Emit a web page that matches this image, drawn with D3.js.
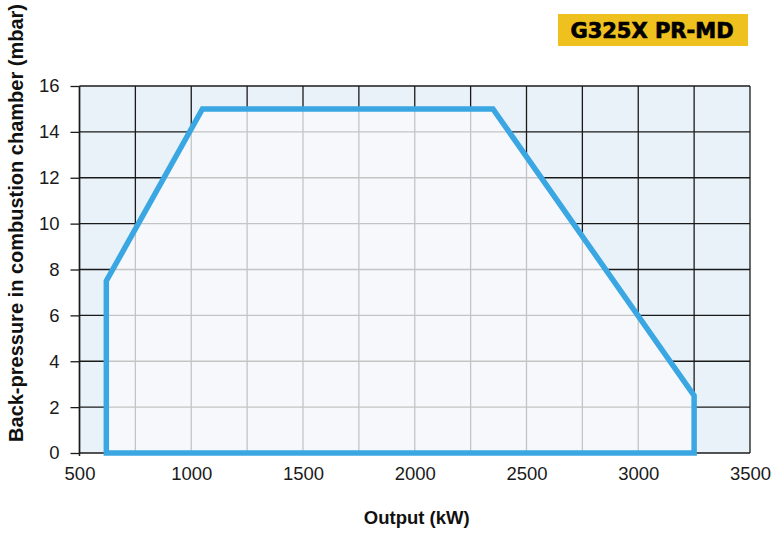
<!DOCTYPE html>
<html>
<head>
<meta charset="utf-8">
<script src="https://cdn.jsdelivr.net/npm/d3@7"></script>
<style>
  html, body { margin: 0; padding: 0; background: #fff; }
  svg { display: block; font-family: "Liberation Sans", Arial, sans-serif; }
</style>
</head>
<body>
<svg id="chart" width="781" height="536"></svg>
<script>
// operating field of the burner (output kW, back-pressure mbar)
const outputKW = [620, 620, 1050, 2350, 3250, 3250];
const pressureMbar = [0, 7.5, 15, 15, 2.5, 0];
const xTicks = [500, 1000, 1500, 2000, 2500, 3000, 3500];
const xGrid = d3.range(500, 3501, 250);
const yTicks = [0, 2, 4, 6, 8, 10, 12, 14, 16];
const title = "G325X PR-MD";

const margin = { left: 79.5, right: 31, top: 86, bottom: 83 };
const width = 781, height = 536;
const svg = d3.select("#chart");

const x = d3.scaleLinear().domain([500, 3500]).range([margin.left, width - margin.right]);
const y = d3.scaleLinear().domain([0, 16]).range([height - margin.bottom, margin.top]);

const field = outputKW.map((v, i) => [x(v), y(pressureMbar[i])]);

// background + dark grid outside the field
const plot = svg.append("g");
plot.append("rect")
  .attr("x", x(500)).attr("y", y(16))
  .attr("width", x(3500) - x(500)).attr("height", y(0) - y(16))
  .attr("fill", "#e9f2f9");

function drawGrid(g, color) {
  g.selectAll("line.v")
    .data(xGrid).enter()
    .append("line")
    .attr("x1", (d) => x(d)).attr("x2", (d) => x(d))
    .attr("y1", y(0)).attr("y2", y(16))
    .attr("stroke", color).attr("stroke-width", 1.3);
  g.selectAll("line.h")
    .data(yTicks).enter()
    .append("line")
    .attr("x1", x(500)).attr("x2", x(3500))
    .attr("y1", (d) => y(d)).attr("y2", (d) => y(d))
    .attr("stroke", color).attr("stroke-width", 1.3);
}
drawGrid(plot.append("g"), "#1a1a1a");

// lighter inside the field, with grey grid
svg.append("clipPath").attr("id", "fieldClip")
  .append("polygon")
  .attr("points", field.map((p) => p.join(",")).join(" "));

const inner = svg.append("g").attr("clip-path", "url(#fieldClip)");
inner.append("rect")
  .attr("x", x(500)).attr("y", y(16))
  .attr("width", x(3500) - x(500)).attr("height", y(0) - y(16))
  .attr("fill", "#f6f8fc");
drawGrid(inner.append("g"), "#c4c4c4");

// y axis with ticks to the left
const yAxis = svg.append("g")
  .attr("transform", `translate(${x(500)},0)`)
  .call(d3.axisLeft(y).tickValues(yTicks).tickSize(9).tickPadding(11));
yAxis.select(".domain").attr("stroke", "#1a1a1a").attr("stroke-width", 1.5)
  .attr("d", `M0,${y(16)}V${y(0) + 3}`);
yAxis.selectAll(".tick line").attr("stroke", "#1a1a1a").attr("stroke-width", 1.3);
yAxis.selectAll(".tick text")
  .attr("font-size", 18.5).attr("fill", "#1a1a1a")
  .attr("font-family", "Liberation Sans, Arial, sans-serif");

// x tick labels
const xAxis = svg.append("g")
  .attr("transform", `translate(0,${y(0)})`)
  .call(d3.axisBottom(x).tickValues(xTicks).tickSize(0).tickPadding(14).tickFormat(d3.format("d")));
xAxis.select(".domain").remove();
xAxis.selectAll(".tick text")
  .attr("font-size", 18.5).attr("fill", "#1a1a1a")
  .attr("font-family", "Liberation Sans, Arial, sans-serif");

// field outline
svg.append("polygon")
  .attr("points", field.map((p) => p.join(",")).join(" "))
  .attr("fill", "none")
  .attr("stroke", "#3aa7e3")
  .attr("stroke-width", 5.5)
  .attr("stroke-linejoin", "miter");

// axis titles
svg.append("text")
  .attr("x", (x(500) + x(3500)) / 2 + 2)
  .attr("y", 524)
  .attr("text-anchor", "middle")
  .attr("font-size", 18.5).attr("font-weight", "bold").attr("fill", "#111")
  .text("Output (kW)");

svg.append("text")
  .attr("transform", "translate(23,223) rotate(-90)")
  .attr("text-anchor", "middle")
  .attr("font-size", 20).attr("font-weight", "bold").attr("fill", "#111")
  .text("Back-pressure in combustion chamber (mbar)");

// model badge
svg.append("rect")
  .attr("x", 558).attr("y", 14)
  .attr("width", 190).attr("height", 32)
  .attr("fill", "#efc11f");
svg.append("text")
  .attr("x", 652).attr("y", 38)
  .attr("text-anchor", "middle")
  .attr("font-size", 21).attr("font-weight", "bold").attr("fill", "#000")
  .attr("stroke", "#000").attr("stroke-width", 0.7)
  .attr("font-family", "DejaVu Sans, sans-serif")
  .text(title);
</script>
</body>
</html>
